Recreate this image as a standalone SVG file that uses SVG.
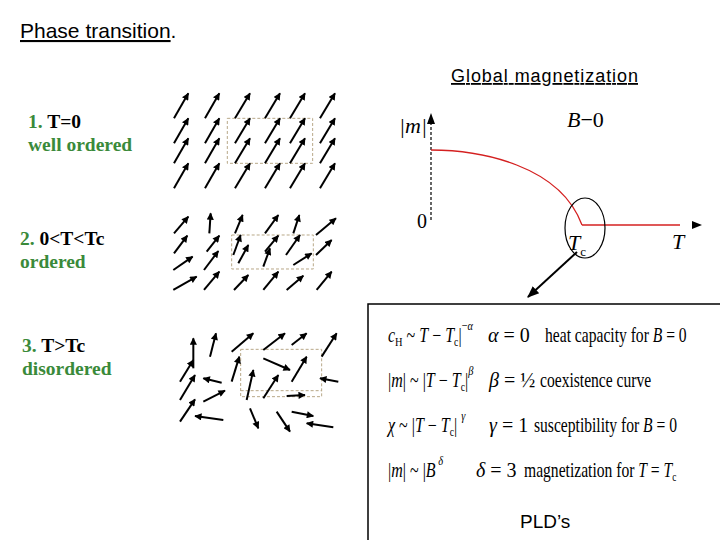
<svg xmlns="http://www.w3.org/2000/svg" width="720" height="540" viewBox="0 0 720 540">
<style>
.a{stroke:#000;stroke-width:6;marker-end:url(#h)}
.box{fill:none;stroke:#b8a888;stroke-width:3;stroke-dasharray:9 6}
.lab{font-family:"Liberation Serif",serif;font-weight:bold;font-size:19.5px}
.g{fill:#3a8a3a}
.m{font-family:"Liberation Serif",serif;font-size:22px;font-style:italic}
.eq{font-family:"Liberation Serif",serif;font-size:20px}
.i{font-style:italic}
</style>
<defs>
<marker id="h" viewBox="0 0 10 10" refX="9" refY="5" markerWidth="4" markerHeight="3.6" orient="auto"><path d="M0,0L10,5L0,10z" fill="#000"/></marker>
<marker id="h2" viewBox="0 0 10 10" refX="9" refY="5" markerWidth="6" markerHeight="6" orient="auto"><path d="M0,1L10,5L0,9z" fill="#000"/></marker>
</defs>
<rect width="720" height="540" fill="#fff"/>
<text x="20" y="38" font-family="Liberation Sans,sans-serif" font-size="21"><tspan text-decoration="underline">Phase transition</tspan>.</text>
<text x="451" y="82" font-family="Liberation Sans,sans-serif" font-size="18" textLength="187" text-decoration="underline">Global magnetization</text>

<g id="label1" class="lab"><text x="28" y="128"><tspan class="g">1.</tspan> T=0</text><text x="28" y="151" class="g">well ordered</text></g>
<g id="label2" class="lab"><text x="20" y="245"><tspan class="g">2.</tspan> 0&lt;T&lt;Tc</text><text x="20" y="268" class="g">ordered</text></g>
<g id="label3" class="lab"><text x="22" y="352"><tspan class="g">3.</tspan> T&gt;Tc</text><text x="22" y="375" class="g">disordered</text></g>

<g id="grid1" transform="translate(160,85) scale(0.3333)">
<rect class="box" x="202" y="100" width="256" height="135"/>
<g id="r">
<line class="a" x1="42" y1="100" x2="85" y2="25"/><line class="a" x1="135" y1="100" x2="178" y2="25"/><line class="a" x1="225" y1="100" x2="270" y2="25"/><line class="a" x1="315" y1="100" x2="360" y2="25"/><line class="a" x1="390" y1="100" x2="435" y2="25"/><line class="a" x1="480" y1="100" x2="525" y2="25"/>
</g>
<use href="#r" y="75"/><use href="#r" y="135"/><use href="#r" y="210"/>
</g>

<g id="grid2" transform="translate(160,85) scale(0.3333)">
<rect class="box" x="215" y="450" width="245" height="102"/>
<line class="a" x1="42" y1="445" x2="85" y2="395"/><line class="a" x1="148" y1="445" x2="152" y2="385"/><line class="a" x1="225" y1="445" x2="248" y2="390"/><line class="a" x1="315" y1="445" x2="355" y2="390"/><line class="a" x1="400" y1="445" x2="418" y2="390"/><line class="a" x1="468" y1="450" x2="528" y2="400"/>
<line class="a" x1="42" y1="505" x2="82" y2="452"/><line class="a" x1="140" y1="500" x2="178" y2="452"/><line class="a" x1="220" y1="510" x2="242" y2="450"/><line class="a" x1="235" y1="535" x2="265" y2="480"/><line class="a" x1="310" y1="545" x2="330" y2="490"/><line class="a" x1="315" y1="500" x2="355" y2="452"/><line class="a" x1="378" y1="510" x2="420" y2="450"/><line class="a" x1="468" y1="510" x2="515" y2="465"/>
<line class="a" x1="40" y1="555" x2="98" y2="515"/><line class="a" x1="132" y1="555" x2="175" y2="498"/><line class="a" x1="400" y1="540" x2="455" y2="505"/>
<line class="a" x1="40" y1="615" x2="110" y2="575"/><line class="a" x1="132" y1="615" x2="178" y2="560"/><line class="a" x1="222" y1="615" x2="265" y2="570"/><line class="a" x1="310" y1="615" x2="355" y2="560"/><line class="a" x1="380" y1="615" x2="430" y2="572"/><line class="a" x1="470" y1="615" x2="515" y2="560"/>
</g>

<g id="grid3" transform="translate(160,320) scale(0.3333)">
<rect class="box" x="242" y="88" width="243" height="142"/>
<line class="box" x1="242" y1="212" x2="485" y2="212"/>
<line class="a" x1="100" y1="145" x2="100" y2="55"/><line class="a" x1="150" y1="110" x2="168" y2="40"/><line class="a" x1="215" y1="95" x2="280" y2="40"/><line class="a" x1="310" y1="90" x2="375" y2="40"/><line class="a" x1="395" y1="75" x2="440" y2="40"/><line class="a" x1="485" y1="110" x2="530" y2="40"/>
<line class="a" x1="60" y1="185" x2="100" y2="120"/><line class="a" x1="215" y1="185" x2="238" y2="110"/><line class="a" x1="310" y1="115" x2="390" y2="150"/><line class="a" x1="395" y1="185" x2="440" y2="110"/><line class="a" x1="535" y1="185" x2="480" y2="175"/>
<line class="a" x1="60" y1="240" x2="105" y2="165"/><line class="a" x1="185" y1="188" x2="130" y2="175"/><line class="a" x1="260" y1="240" x2="280" y2="150"/><line class="a" x1="310" y1="235" x2="355" y2="165"/>
<line class="a" x1="130" y1="245" x2="195" y2="212"/><line class="a" x1="380" y1="228" x2="435" y2="225"/><line class="a" x1="60" y1="305" x2="105" y2="238"/>
<line class="a" x1="190" y1="300" x2="105" y2="288"/><line class="a" x1="270" y1="265" x2="295" y2="325"/><line class="a" x1="350" y1="275" x2="390" y2="335"/><line class="a" x1="395" y1="275" x2="460" y2="288"/><line class="a" x1="520" y1="322" x2="440" y2="310"/>
</g>

<g id="graph">
<line x1="431" y1="220" x2="431" y2="124" stroke="#000" stroke-width="1.2" stroke-dasharray="3 2"/>
<path d="M427,124L431,113L435,124z"/>
<path d="M431,150C480,150 560,165 582,225" fill="none" stroke="#d42020" stroke-width="1.3"/>
<line x1="582" y1="225" x2="680" y2="225" stroke="#d42020" stroke-width="1.3"/>
<path d="M692,221L702,225L692,229z"/>
<ellipse cx="585" cy="228" rx="20" ry="30" fill="none" stroke="#000" stroke-width="1.2"/>
<text x="399" y="133" class="m">|m|</text>
<text x="417" y="228" class="eq" font-size="22">0</text>
<text x="567" y="127" class="m">B<tspan font-style="normal">−0</tspan></text>
<text x="568" y="250" class="m">T<tspan font-size="13" font-style="normal" dy="6">c</tspan></text>
<text x="672" y="249" class="m">T</text>
</g>

<g id="connectors">
<line x1="577" y1="252" x2="528" y2="297" stroke="#000" stroke-width="2" marker-end="url(#h2)"/>
</g>

<g id="pld" class="eq">
<rect x="368" y="304" width="360" height="245" fill="#fff" stroke="#000" stroke-width="1.5"/>
<text transform="translate(388,342) scale(0.8,1)"><tspan class="i">c</tspan><tspan font-size="13" dy="4">H</tspan><tspan dy="-4"> ~ </tspan><tspan class="i">T</tspan> − <tspan class="i">T</tspan><tspan font-size="12" dy="4">c</tspan><tspan dy="-4">|</tspan><tspan font-size="13" dy="-12">−<tspan class="i">α</tspan></tspan></text>
<text x="488" y="342"><tspan class="i">α</tspan> = 0</text>
<text transform="translate(545,342) scale(0.78,1)">heat capacity for <tspan class="i">B</tspan> = 0</text>
<text transform="translate(388,387) scale(0.8,1)">|<tspan class="i">m</tspan>| ~ |<tspan class="i">T</tspan> − <tspan class="i">T</tspan><tspan font-size="12" dy="4">c</tspan><tspan dy="-4">|</tspan><tspan font-size="13" dy="-12" class="i">β</tspan></text>
<text x="489" y="387"><tspan class="i">β</tspan> = ½</text>
<text transform="translate(540,387) scale(0.78,1)">coexistence curve</text>
<text transform="translate(388,432) scale(0.8,1)"><tspan class="i">χ</tspan> ~ |<tspan class="i">T</tspan> − <tspan class="i">T</tspan><tspan font-size="12" dy="4">c</tspan><tspan dy="-4">| </tspan><tspan font-size="13" dy="-12" class="i">γ</tspan></text>
<text x="489" y="432"><tspan class="i">γ</tspan> = 1</text>
<text transform="translate(534,432) scale(0.78,1)">susceptibility for <tspan class="i">B</tspan> = 0</text>
<text transform="translate(388,477) scale(0.8,1)">|<tspan class="i">m</tspan>| ~ |<tspan class="i">B</tspan><tspan font-size="13" dy="-12" class="i"> δ</tspan></text>
<text x="476" y="477"><tspan class="i">δ</tspan> = 3</text>
<text transform="translate(524,477) scale(0.78,1)">magnetization for <tspan class="i">T</tspan> = <tspan class="i">T</tspan><tspan font-size="12" dy="4">c</tspan></text>
<text x="520" y="528" font-family="Liberation Sans,sans-serif" font-size="19">PLD’s</text>
</g>
</svg>
